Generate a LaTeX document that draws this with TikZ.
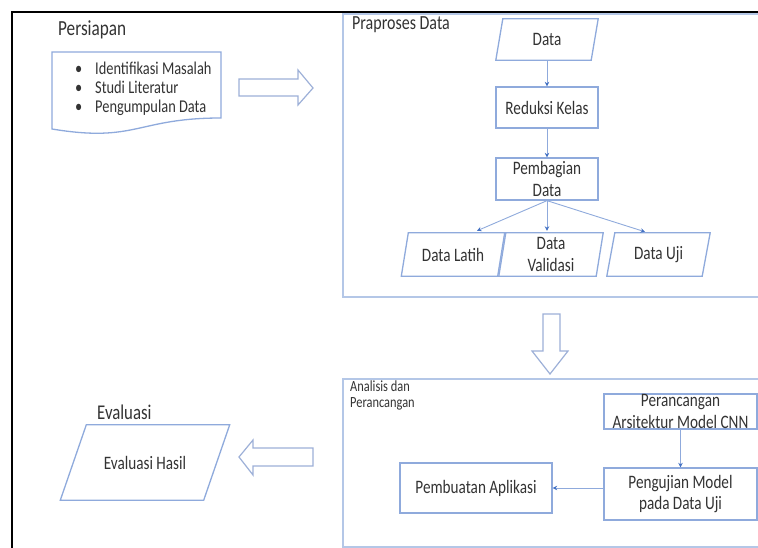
\documentclass[tikz,border=0pt]{standalone}
\usepackage{fontspec}
\setmainfont[FakeStretch=0.8]{Carlito}
\usetikzlibrary{calc,arrows.meta}
\definecolor{boxc}{HTML}{8FAADC}
\definecolor{contc}{HTML}{B4C7E7}
\definecolor{arrc}{HTML}{4472C4}
\definecolor{txtc}{HTML}{333333}
\definecolor{blockc}{HTML}{9DB0D8}
\newcommand{\paranode}[7]{%
  \node[boxtxt, minimum width=#4pt, minimum height=#5pt] (#1) at (#2,#3) {#7};
  \draw[boxline] ($(#1.north west)+(#6/2,0)$) -- ($(#1.north east)+(#6/2,0)$)
    -- ($(#1.south east)+(-#6/2,0)$) -- ($(#1.south west)+(-#6/2,0)$) -- cycle;}
\begin{document}
\begin{tikzpicture}[x=1pt,y=-1pt,
  boxline/.style={draw=boxc, line width=1.3pt},
  boxtxt/.style={text=txtc, align=center, inner sep=0pt, font=\fontsize{19}{21.5}\selectfont},
  rbox/.style={boxtxt, boxline},
  cont/.style={draw=contc, line width=1.3pt},
  conn/.style={draw=boxc, line width=0.9pt, -{Stealth[length=4.5pt,width=4.5pt,color=arrc]}},
  block/.style={draw=blockc, line width=1.2pt, fill=white, line join=miter},
  title/.style={text=txtc, inner sep=0pt, anchor=west}
]
\clip (0,0) rectangle (758,548);
\useasboundingbox (0,0) rectangle (758,548);
\fill[white] (0,0) rectangle (758,548);

% outer black border (top and left)
\draw[line width=2.6pt, black] (12,560) -- (12,12) -- (770,12);

% ---------- Persiapan ----------
\node[title, font=\fontsize{21.5}{24}\selectfont] (tpers) at (58,30) {Persiapan};
\draw[boxline] (52,52) -- (221,52) -- (221,118)
  .. controls (136.5,118) and (136.5,143) .. (52,129) -- cycle;
\node[title, align=left, font=\fontsize{18}{19}\selectfont] (plist) at (75,89)
  {\makebox[20pt][l]{\textbullet}Identifikasi Masalah\\
   \makebox[20pt][l]{\textbullet}Studi Literatur\\
   \makebox[20pt][l]{\textbullet}Pengumpulan Data};

% right block arrow
\draw[block] (239,79) -- (298,79) -- (298,70) -- (313,88) -- (298,105) -- (298,96) -- (239,96) -- cycle;

% ---------- Praproses Data ----------
\draw[cont] (343,14) rectangle (775,297);
\node[title, font=\fontsize{20}{22}\selectfont] (tprap) at (352,25) {Praproses Data};
\paranode{data}{547}{39.5}{95}{41}{7}{Data}
\node[rbox, minimum width=102pt, minimum height=41pt] (red) at (547,107.5) {Reduksi Kelas};
\node[rbox, minimum width=102pt, minimum height=42pt] (pemb) at (547,179) {Pembagian\\Data};
\paranode{latih}{453}{254.5}{96}{43}{7}{Data Latih}
\paranode{val}{551}{254.5}{97}{43}{7}{Data\\Validasi}
\paranode{uji}{658.5}{254.5}{95}{43}{8}{Data Uji}
\draw[conn] (data.south) -- (red.north);
\draw[conn] (red.south) -- (pemb.north);
\draw[conn] (pemb.south) -- ($(latih.north)+(24,-2)$);
\draw[conn] (pemb.south) -- ($(val.north)+(-4,-2)$);
\draw[conn] (pemb.south) -- ($(uji.north)+(-13.5,-1)$);

% down block arrow
\draw[block] (543,314) -- (560,314) -- (560,351) -- (568,351) -- (550,374) -- (532,351) -- (543,351) -- cycle;

% ---------- Analisis dan Perancangan ----------
\draw[cont] (343,379) rectangle (775,547);
\node[title, anchor=north west, align=left, font=\fontsize{15.5}{16}\selectfont] (tana) at (350,381)
  {Analisis dan\\Perancangan};
\node[rbox, minimum width=153pt, minimum height=35pt] (per) at (680.5,411.5) {Perancangan\\Arsitektur Model CNN};
\node[rbox, minimum width=153pt, minimum height=52pt] (pen) at (680.5,494) {Pengujian Model\\pada Data Uji};
\node[rbox, minimum width=152pt, minimum height=50pt] (apl) at (476,488) {Pembuatan Aplikasi};
\draw[conn] (per.south) -- (pen.north);
\draw[conn] (pen.west |- apl.east) -- (apl.east);

% left block arrow
\draw[block] (313,448) -- (253,448) -- (253,440) -- (239,457) -- (253,475) -- (253,466) -- (313,466) -- cycle;

% ---------- Evaluasi ----------
\node[title, font=\fontsize{21}{24}\selectfont] (teval) at (97,412) {Evaluasi};
\paranode{evh}{145}{462.5}{143}{75}{26}{Evaluasi Hasil}
\end{tikzpicture}
\end{document}
